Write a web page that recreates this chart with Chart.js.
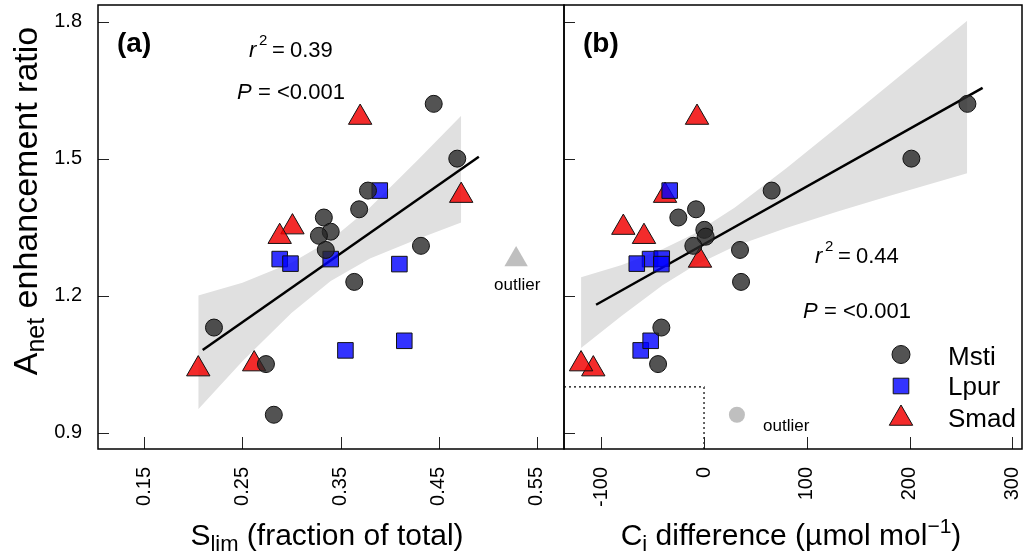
<!DOCTYPE html>
<html><head><meta charset="utf-8">
<script src="https://cdn.jsdelivr.net/npm/chart.js@4.4.0/dist/chart.umd.min.js"></script>
<style>
html,body{margin:0;padding:0;background:#fff;}
#wrap{position:relative;width:1025px;height:556px;background:#fff;}
canvas{position:absolute;left:0;top:0;}
</style></head><body>
<div id="wrap"><canvas id="ca" width="1025" height="556"></canvas><canvas id="cb" width="1025" height="556"></canvas></div>
<script>
// ---------- axis ticks ----------
const yTicks = [0.9, 1.2, 1.5, 1.8];
const yTickLabels = ['0.9', '1.2', '1.5', '1.8'];
const xTicksA = [0.15, 0.25, 0.35, 0.45, 0.55];
const xTickLabelsA = ['0.15', '0.25', '0.35', '0.45', '0.55'];
const xTicksB = [-100, 0, 100, 200, 300];
const xTickLabelsB = ['-100', '0', '100', '200', '300'];
const yMin = 0.864, yMax = 1.8365;
const xMinA = 0.1028, xMaxA = 0.5778;
const xMinB = -136.2, xMaxB = 309.3;

// ---------- panel (a): S_lim ----------
const mstiSlim  = [0.445, 0.469, 0.378, 0.369, 0.333, 0.340, 0.328, 0.335, 0.432, 0.364, 0.221, 0.274, 0.282];
const mstiAnetA = [1.620, 1.500, 1.430, 1.389, 1.371, 1.340, 1.331, 1.300, 1.309, 1.230, 1.130, 1.050, 0.939];
const lpurSlim  = [0.390, 0.288, 0.299, 0.340, 0.410, 0.355, 0.415];
const lpurAnet  = [1.430, 1.280, 1.270, 1.280, 1.269, 1.080, 1.101];
const smadSlim  = [0.370, 0.473, 0.301, 0.288, 0.205, 0.262];
const smadAnetA = [1.590, 1.419, 1.350, 1.329, 1.039, 1.050];
const outlierSlim  = [0.529];
const outlierAnetA = [1.279];
const fitSlimX = [0.2095, 0.491];
const fitSlimY = [1.081, 1.504];
const bandSlimX     = [0.205, 0.25, 0.30, 0.34, 0.38, 0.43, 0.473];
const bandSlimUpper = [1.200, 1.228, 1.272, 1.322, 1.393, 1.500, 1.594];
const bandSlimLower = [0.951, 1.056, 1.162, 1.232, 1.281, 1.325, 1.360];

// ---------- panel (b): Ci difference ----------
const mstiCi    = [256.2, 201.7, 65.8, -7.8, -25.0, 0.3, 1.6, 35.0, -10.4, 36.0, -41.5, -44.7];
const mstiAnetB = [1.620, 1.500, 1.430, 1.389, 1.371, 1.344, 1.329, 1.300, 1.309, 1.230, 1.130, 1.050];
const lpurCi    = [-33.4, -52.5, -65.4, -41.1, -41.5, -61.6, -51.9];
const lpurAnetB = [1.430, 1.280, 1.270, 1.281, 1.269, 1.080, 1.101];
const smadCi    = [-6.8, -37.9, -78.5, -58.4, -107.7, -119.6, -3.9];
const smadAnetB = [1.590, 1.419, 1.349, 1.329, 1.039, 1.050, 1.277];
const outlierCi    = [32];
const outlierAnetB = [0.939];
const fitCiX = [-105, 271];
const fitCiY = [1.180, 1.655];
const bandCiX     = [-119.6, -80, -40, -10, 30, 80, 130, 180, 256];
const bandCiUpper = [1.240, 1.267, 1.302, 1.335, 1.393, 1.479, 1.570, 1.662, 1.802];
const bandCiLower = [1.085, 1.156, 1.223, 1.265, 1.308, 1.348, 1.384, 1.418, 1.468];
const refLineX = [xMinB, 0, 0];
const refLineY = [1.0, 1.0, yMin];

// ---------- styles ----------
const FAM = "Arial, 'Liberation Sans', Helvetica, sans-serif";
const CIRC = 'rgba(40,40,40,0.8)';
const SQR = 'rgba(0,0,255,0.8)';
const TRI = 'rgba(240,0,0,0.83)';
const BAND = '#e0e0e0';
const OUT = '#bfbfbf';

Chart.defaults.font.family = FAM;
Chart.defaults.color = '#000';

const zip = (xs, ys) => xs.map((x, i) => ({x: x, y: ys[i]}));

function pointSet(label, xs, ys, style, fill, radius, order, border) {
  return {label: label, data: zip(xs, ys), pointStyle: style, pointRadius: radius, pointHoverRadius: radius,
    backgroundColor: fill, borderColor: border === false ? 'rgba(0,0,0,0)' : '#111',
    borderWidth: border === false ? 0 : 1, order: order};
}
function lineSet(label, xs, ys, opts) {
  return Object.assign({type: 'line', label: label, data: zip(xs, ys), pointRadius: 0, pointHoverRadius: 0,
    tension: 0, fill: false}, opts);
}

function rich(ctx, parts, x, y) {
  let cx = x;
  parts.forEach(p => { ctx.font = p.f; ctx.fillText(p.t, cx, y + (p.dy || 0)); cx += ctx.measureText(p.t).width; });
}
function richWidth(ctx, parts) {
  let w = 0; parts.forEach(p => { ctx.font = p.f; w += ctx.measureText(p.t).width; }); return w;
}
function drawR2(ctx, x, y, val) {
  ctx.font = 'italic 22px ' + FAM; ctx.fillText('r', x, y);
  ctx.font = '15px ' + FAM; ctx.fillText('2', x + 10, y - 12);
  ctx.font = '22px ' + FAM; ctx.fillText('=', x + 23, y);
  ctx.fillText(val, x + 41, y);
}
function drawP(ctx, x, y, val) {
  ctx.font = 'italic 22px ' + FAM; ctx.fillText('P', x, y);
  ctx.font = '22px ' + FAM; ctx.fillText('=', x + 21, y);
  ctx.fillText(val, x + 40, y);
}
function drawFrame(chart, xTicks) {
  const ctx = chart.ctx, ca = chart.chartArea, sx = chart.scales.x, sy = chart.scales.y;
  ctx.save();
  ctx.strokeStyle = '#222'; ctx.lineWidth = 1;
  ctx.beginPath();
  yTicks.forEach(v => { const py = Math.round(sy.getPixelForValue(v)) + 0.5; ctx.moveTo(ca.left, py); ctx.lineTo(ca.left + 11, py); });
  xTicks.forEach(v => { const px = Math.round(sx.getPixelForValue(v)) + 0.5; ctx.moveTo(px, ca.bottom); ctx.lineTo(px, ca.bottom - 12); });
  ctx.stroke();
  ctx.strokeStyle = '#000'; ctx.lineWidth = 1.5;
  ctx.strokeRect(ca.left, ca.top, ca.right - ca.left, ca.bottom - ca.top);
  ctx.restore();
}

function makeChart(id, datasets, xMin, xMax, xTicks, xLabels, showY, padding, decor) {
  return new Chart(document.getElementById(id), {
    type: 'scatter',
    data: {datasets: datasets},
    options: {
      responsive: false, animation: false, devicePixelRatio: 1,
      layout: {padding: padding, autoPadding: false},
      plugins: {legend: {display: false}, tooltip: {enabled: false}},
      scales: {
        x: {type: 'linear', min: xMin, max: xMax,
          afterBuildTicks: s => { s.ticks = xTicks.map(v => ({value: v})); },
          afterFit: s => { s.height = 107; s.paddingLeft = 0; s.paddingRight = 0; },
          grid: {display: false, drawTicks: false}, border: {display: false},
          ticks: {autoSkip: false, minRotation: 90, maxRotation: 90, padding: 18, color: '#000',
            font: {size: 20, family: FAM}, callback: (v, i) => xLabels[i]}},
        y: {type: 'linear', min: yMin, max: yMax,
          afterBuildTicks: s => { s.ticks = yTicks.map(v => ({value: v})); },
          afterFit: s => { s.width = showY ? 98 : 0; s.paddingTop = 0; s.paddingBottom = 0; },
          grid: {display: false, drawTicks: false}, border: {display: false},
          ticks: {display: showY, autoSkip: false, padding: 16, color: '#000',
            font: {size: 20, family: FAM}, callback: (v, i) => yTickLabels[i]}}
      }
    },
    plugins: [{id: 'decor' + id, afterDraw: chart => { drawFrame(chart, xTicks); decor(chart); }}]
  });
}

// ---------- chart (a) ----------
makeChart('ca', [
  pointSet('Msti', mstiSlim, mstiAnetA, 'circle', CIRC, 8.5, 0),
  pointSet('Lpur', lpurSlim, lpurAnet, 'rect', SQR, 11, 1),
  pointSet('Smad', smadSlim, smadAnetA, 'triangle', TRI, 13.5, 2),
  pointSet('outlier', outlierSlim, outlierAnetA, 'triangle', OUT, 13.5, 3, false),
  lineSet('fit', fitSlimX, fitSlimY, {borderColor: '#000', borderWidth: 2.5, order: 4}),
  lineSet('upper', bandSlimX, bandSlimUpper, {borderColor: 'rgba(0,0,0,0)', borderWidth: 0, fill: '+1', backgroundColor: BAND, order: 5}),
  lineSet('lower', bandSlimX, bandSlimLower, {borderColor: 'rgba(0,0,0,0)', borderWidth: 0, order: 5})
], xMinA, xMaxA, xTicksA, xTickLabelsA, true, {left: 0, top: 5, right: 461, bottom: 0}, chart => {
  const ctx = chart.ctx;
  ctx.save(); ctx.fillStyle = '#000'; ctx.textAlign = 'left'; ctx.textBaseline = 'alphabetic';
  ctx.font = 'bold 28px ' + FAM; ctx.fillText('(a)', 117, 52);
  drawR2(ctx, 249, 57, '0.39');
  drawP(ctx, 237, 99, '<0.001');
  ctx.font = '17px ' + FAM; ctx.fillText('outlier', 494, 290);
  // x title
  const px = [{t: 'S', f: '30px ' + FAM}, {t: 'lim', f: '22px ' + FAM, dy: 6}, {t: ' (fraction of total)', f: '30px ' + FAM}];
  rich(ctx, px, 327 - richWidth(ctx, px) / 2, 545);
  // y title
  const py = [{t: 'A', f: '34px ' + FAM}, {t: 'net', f: '25px ' + FAM, dy: 7}, {t: ' enhancement ratio', f: '34px ' + FAM}];
  ctx.translate(37, 201); ctx.rotate(-Math.PI / 2);
  rich(ctx, py, -richWidth(ctx, py) / 2, 0);
  ctx.restore();
});

// ---------- chart (b) ----------
makeChart('cb', [
  pointSet('Msti', mstiCi, mstiAnetB, 'circle', CIRC, 8.5, 0),
  pointSet('Lpur', lpurCi, lpurAnetB, 'rect', SQR, 11, 1),
  pointSet('Smad', smadCi, smadAnetB, 'triangle', TRI, 13.5, 2),
  pointSet('outlier', outlierCi, outlierAnetB, 'circle', OUT, 8, 3, false),
  lineSet('fit', fitCiX, fitCiY, {borderColor: '#000', borderWidth: 2.5, order: 4}),
  lineSet('upper', bandCiX, bandCiUpper, {borderColor: 'rgba(0,0,0,0)', borderWidth: 0, fill: '+1', backgroundColor: BAND, order: 5}),
  lineSet('lower', bandCiX, bandCiLower, {borderColor: 'rgba(0,0,0,0)', borderWidth: 0, order: 5}),
  lineSet('ref', refLineX, refLineY, {borderColor: '#000', borderWidth: 1.2, borderDash: [2, 3], order: 6})
], xMinB, xMaxB, xTicksB, xTickLabelsB, false, {left: 564, top: 5, right: 3, bottom: 0}, chart => {
  const ctx = chart.ctx;
  ctx.save(); ctx.fillStyle = '#000'; ctx.textAlign = 'left'; ctx.textBaseline = 'alphabetic';
  ctx.font = 'bold 28px ' + FAM; ctx.fillText('(b)', 583, 52);
  drawR2(ctx, 815, 263, '0.44');
  drawP(ctx, 803, 318, '<0.001');
  ctx.font = '17px ' + FAM; ctx.fillText('outlier', 763, 431);
  // legend
  const lx = 901;
  ctx.strokeStyle = '#111'; ctx.lineWidth = 1;
  ctx.beginPath(); ctx.arc(lx, 354.5, 9, 0, Math.PI * 2); ctx.fillStyle = CIRC; ctx.fill(); ctx.stroke();
  ctx.beginPath(); ctx.rect(lx - 7.8, 386 - 7.8, 15.6, 15.6); ctx.fillStyle = SQR; ctx.fill(); ctx.stroke();
  const r = 13.5, ty = 418.5;
  ctx.beginPath(); ctx.moveTo(lx, ty - r); ctx.lineTo(lx + 0.866 * r, ty + r / 2); ctx.lineTo(lx - 0.866 * r, ty + r / 2); ctx.closePath();
  ctx.fillStyle = TRI; ctx.fill(); ctx.stroke();
  ctx.fillStyle = '#000'; ctx.font = '26px ' + FAM;
  ctx.fillText('Msti', 948, 365);
  ctx.fillText('Lpur', 948, 395);
  ctx.fillText('Smad', 948, 427);
  // x title
  const px = [{t: 'C', f: '30px ' + FAM}, {t: 'i', f: '22px ' + FAM, dy: 6}, {t: ' difference (\u00b5mol mol', f: '30px ' + FAM},
              {t: '\u22121', f: '21px ' + FAM, dy: -12}, {t: ')', f: '30px ' + FAM}];
  rich(ctx, px, 791 - richWidth(ctx, px) / 2, 545);
  ctx.restore();
});
</script>
</body></html>
